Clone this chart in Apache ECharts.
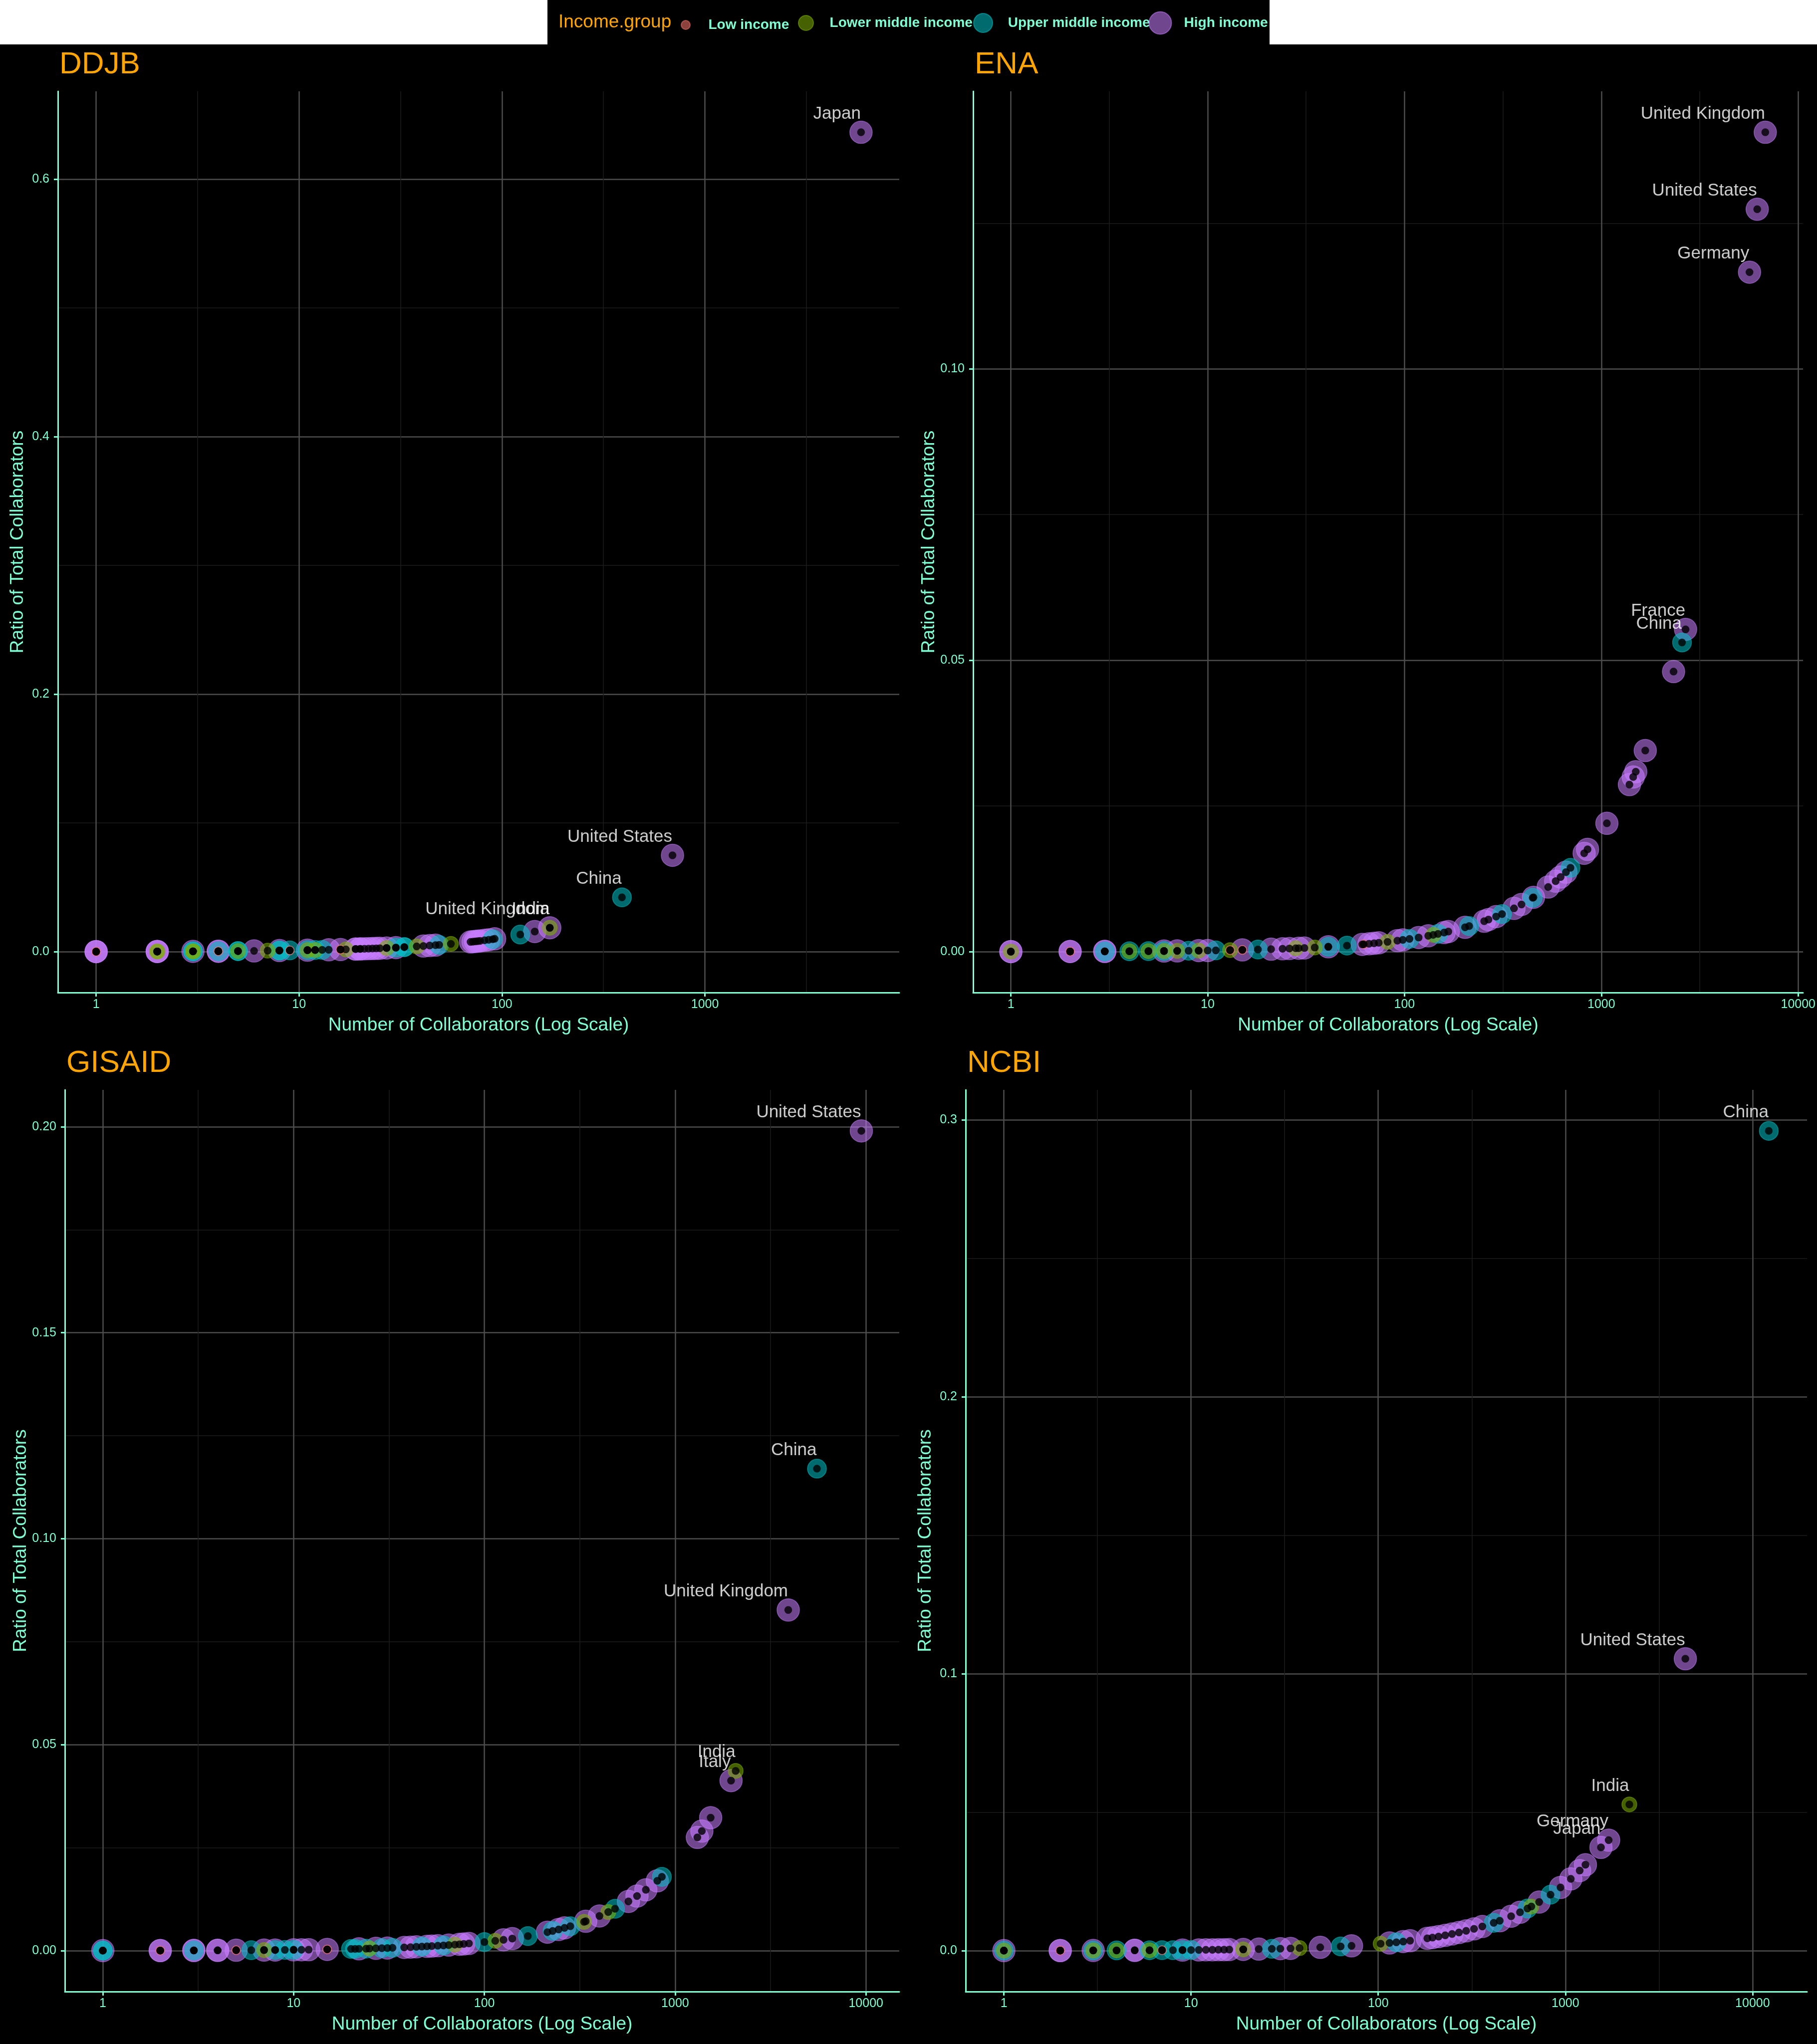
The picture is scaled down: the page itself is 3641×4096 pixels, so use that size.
<!DOCTYPE html>
<html><head><meta charset="utf-8">
<script src="https://cdn.jsdelivr.net/npm/echarts@6/dist/echarts.min.js"></script>
<style>html,body{margin:0;padding:0;background:#000}#c{width:3641px;height:4096px}</style>
</head><body><div id="c"></div>
<script>
// ---------- categories ----------
const groupNames = ['Low income', 'Lower middle income', 'Upper middle income', 'High income'];
const groupCodes = ['L', 'LM', 'UM', 'H'];
const panelTitles = ['DDJB', 'ENA', 'GISAID', 'NCBI'];

// ---------- tick labels ----------
const ddjbXTicks = [1, 10, 100, 1000];
const otherXTicks = [1, 10, 100, 1000, 10000];
const ddjbYTicks = [0, 0.2, 0.4, 0.6];
const enaYTicks = [0, 0.05, 0.10];
const gisaidYTicks = [0, 0.05, 0.10, 0.15, 0.20];
const ncbiYTicks = [0, 0.1, 0.2, 0.3];

// ---------- DDJB ----------
const ddjbX = [1,1,1,1,2,2,2,2,2,3,3,3,3,3,4,4,4,4,5,5,5,6,7,8,8,8,9,9,11,11,11,12,12,13,14,16,16,17,19,19,20,20,21,22,23,24,25,27,27,30,30,33,33,38,41,44,47,49,56,70,72,74,76,78,82,86,90,92,123,145,172,172,390,692,5878];
const ddjbY = [0.0001,0.0001,0.0001,0.0001,0.0002,0.0002,0.0002,0.0002,0.0002,0.0003,0.0003,0.0003,0.0003,0.0003,0.0004,0.0004,0.0004,0.0004,0.0005,0.0005,0.0005,0.0006,0.0008,0.0009,0.0009,0.0009,0.0010,0.0010,0.0012,0.0012,0.0012,0.0013,0.0013,0.0014,0.0015,0.0017,0.0017,0.0018,0.0021,0.0021,0.0022,0.0022,0.0023,0.0024,0.0025,0.0026,0.0027,0.0029,0.0029,0.0032,0.0032,0.0036,0.0036,0.0041,0.0044,0.0048,0.0051,0.0053,0.0061,0.0076,0.0078,0.0080,0.0082,0.0084,0.0089,0.0093,0.0097,0.0100,0.0133,0.0157,0.0186,0.0186,0.0422,0.0749,0.6364];
const ddjbGroup = ['H','H','H','L','H','H','H','LM','LM','H','UM','UM','LM','LM','H','UM','H','L','UM','UM','LM','H','LM','H','UM','UM','UM','L','H','UM','LM','LM','UM','UM','H','H','L','LM','H','H','H','H','H','H','H','H','H','LM','H','H','UM','UM','UM','LM','H','H','H','UM','LM','H','H','H','H','H','H','H','UM','H','UM','H','H','LM','UM','H','H'];
const ddjbLabelNames = ['Japan', 'United States', 'China', 'United Kingdom', 'India'];
const ddjbLabelX = [5878, 692, 390, 172, 172];
const ddjbLabelY = [0.6364, 0.0749, 0.0422, 0.0186, 0.0186];

// ---------- ENA ----------
const enaX = [1,1,1,2,2,2,3,3,3,4,4,5,5,6,6,6,7,7,8,9,9,10,11,13,13,15,15,18,21,24,26,28,29,31,35,41,41,51,61,62,66,70,74,82,92,98,106,118,132,140,148,159,167,203,213,254,267,292,313,360,393,448,452,537,586,621,661,697,818,851,1067,1389,1452,1496,1672,2328,2570,2679,5660,6195,6808];
const enaY = [0.00002,0.00002,0.00002,0.00004,0.00004,0.00004,0.00006,0.00006,0.00006,0.00008,0.00008,0.00010,0.00010,0.00012,0.00012,0.00012,0.00014,0.00014,0.00017,0.00019,0.00019,0.00021,0.00023,0.00027,0.00027,0.00031,0.00031,0.00037,0.00043,0.00050,0.00054,0.00058,0.00060,0.00064,0.00072,0.00085,0.00085,0.00105,0.00126,0.00128,0.00136,0.00145,0.00153,0.00169,0.00190,0.00202,0.00219,0.00244,0.00273,0.00289,0.00306,0.00328,0.00345,0.00419,0.00440,0.00524,0.00551,0.00603,0.00646,0.00743,0.00811,0.00925,0.00933,0.01109,0.01210,0.01282,0.01365,0.01439,0.01689,0.01757,0.02203,0.02868,0.02998,0.03089,0.03452,0.04806,0.05306,0.05531,0.1166,0.1274,0.1406];
const enaGroup = ['LM','H','H','H','H','L','H','UM','H','UM','LM','UM','LM','LM','H','UM','LM','H','UM','H','LM','H','UM','LM','L','H','L','UM','H','H','H','LM','H','H','LM','UM','H','UM','H','L','H','H','H','LM','H','H','UM','H','H','LM','UM','H','H','H','UM','H','H','H','UM','H','H','UM','H','H','H','H','H','UM','H','H','H','H','H','H','H','H','UM','H','H','H','H'];
const enaLabelNames = ['United Kingdom', 'United States', 'Germany', 'France', 'China'];
const enaLabelX = [6808, 6195, 5660, 2679, 2570];
const enaLabelY = [0.1406, 0.1274, 0.1166, 0.05531, 0.05306];

// ---------- GISAID ----------
const gisaidX = [1,1,1,2,2,2,3,3,3,4,4,5,5,6,7,7,8,8,9,10,10,11,12,15,15,20,21,22,24,25,27,29,31,33,38,41,44,47,50,53,57,61,65,70,74,78,83,100,114,126,140,169,214,228,245,263,282,333,340,401,446,484,569,631,702,806,852,1307,1380,1535,1963,2075,3915,5536,9460];
const gisaidY = [0.00002,0.00002,0.00002,0.00004,0.00004,0.00004,0.00006,0.00006,0.00006,0.00008,0.00008,0.00011,0.00011,0.00013,0.00015,0.00015,0.00017,0.00017,0.00019,0.00021,0.00021,0.00023,0.00025,0.00032,0.00032,0.00042,0.00044,0.00046,0.00050,0.00053,0.00057,0.00061,0.00065,0.00069,0.00080,0.00086,0.00093,0.00099,0.00105,0.00111,0.00120,0.00128,0.00137,0.00147,0.00156,0.00164,0.00175,0.00210,0.00240,0.00265,0.00294,0.00355,0.00450,0.00480,0.00515,0.00553,0.00593,0.00700,0.00715,0.00843,0.00938,0.01018,0.01197,0.01327,0.01477,0.01695,0.01792,0.02749,0.02903,0.03229,0.04129,0.04365,0.0827,0.1170,0.1990];
const gisaidGroup = ['UM','UM','H','H','H','L','H','H','UM','H','H','H','L','UM','LM','H','UM','H','UM','UM','H','H','H','H','L','UM','UM','H','UM','LM','H','UM','H','UM','H','H','H','UM','H','H','H','UM','H','LM','H','H','H','UM','LM','H','H','UM','H','UM','H','H','UM','LM','H','H','LM','UM','H','H','H','H','UM','H','H','H','H','LM','H','UM','H'];
const gisaidLabelNames = ['United States', 'China', 'United Kingdom', 'India', 'Italy'];
const gisaidLabelX = [9460, 5536, 3915, 2075, 1963];
const gisaidLabelY = [0.1990, 0.1170, 0.0827, 0.04365, 0.04129];

// ---------- NCBI ----------
const ncbiX = [1,1,1,2,2,2,3,3,3,4,4,5,5,6,6,7,7,8,9,9,10,11,12,13,14,15,16,19,19,23,27,30,34,38,49,63,72,103,115,125,136,148,183,195,210,228,248,270,295,325,360,414,446,513,572,627,658,724,833,942,1069,1192,1280,1549,1703,2197,4375,12210];
const ncbiY = [0.00002,0.00002,0.00002,0.00005,0.00005,0.00005,0.00007,0.00007,0.00007,0.00010,0.00010,0.00012,0.00012,0.00015,0.00015,0.00017,0.00017,0.00019,0.00022,0.00022,0.00024,0.00027,0.00029,0.00032,0.00034,0.00036,0.00039,0.00046,0.00046,0.00056,0.00065,0.00073,0.00082,0.00092,0.00119,0.00153,0.00175,0.00250,0.00279,0.00303,0.00330,0.00359,0.00444,0.00473,0.00509,0.00553,0.00601,0.00655,0.00715,0.00788,0.00873,0.01004,0.01081,0.01244,0.01387,0.01520,0.01595,0.01755,0.02020,0.02284,0.02592,0.02890,0.03103,0.0373,0.0399,0.0528,0.1054,0.2960];
const ncbiGroup = ['UM','LM','H','H','H','L','LM','UM','H','LM','UM','H','H','LM','UM','UM','L','UM','H','UM','UM','H','H','H','H','H','H','H','LM','H','UM','H','H','LM','H','UM','H','LM','H','UM','H','H','H','H','H','H','H','H','H','H','H','UM','H','H','H','UM','LM','H','UM','H','H','H','H','H','H','LM','H','UM'];
const ncbiLabelNames = ['China', 'United States', 'India', 'Germany', 'Japan'];
const ncbiLabelX = [12210, 4375, 2197, 1703, 1549];
const ncbiLabelY = [0.2960, 0.1054, 0.0528, 0.0399, 0.0373];

// ---------- styling / layout ----------
const FONT = 'Liberation Sans, Arial, sans-serif';
const AQUA = '#7FFFD4';
const ORANGE = '#FFA500';
const groupColors = {L: '#F8766D', LM: '#7CAE00', UM: '#00BFC4', H: '#C77CFF'};
const groupSizes = {L: 18, LM: 30, UM: 38, H: 45};
const drawOrder = ['H', 'UM', 'LM', 'L'];
function rgba(hex, a) {
  const n = parseInt(hex.slice(1), 16);
  return 'rgba(' + ((n >> 16) & 255) + ',' + ((n >> 8) & 255) + ',' + (n & 255) + ',' + a + ')';
}
const panels = [
  {x: ddjbX, y: ddjbY, g: ddjbGroup, ln: ddjbLabelNames, lx: ddjbLabelX, ly: ddjbLabelY, xt: ddjbXTicks, yt: ddjbYTicks, dec: 1, step: 0.2,
   grid: {left: 116, top: 183, width: 1686, height: 1806}},
  {x: enaX, y: enaY, g: enaGroup, ln: enaLabelNames, lx: enaLabelX, ly: enaLabelY, xt: otherXTicks, yt: enaYTicks, dec: 2, step: 0.05,
   grid: {left: 1950, top: 183, width: 1672, height: 1806}},
  {x: gisaidX, y: gisaidY, g: gisaidGroup, ln: gisaidLabelNames, lx: gisaidLabelX, ly: gisaidLabelY, xt: otherXTicks, yt: gisaidYTicks, dec: 2, step: 0.05,
   grid: {left: 130, top: 2184, width: 1672, height: 1807}},
  {x: ncbiX, y: ncbiY, g: ncbiGroup, ln: ncbiLabelNames, lx: ncbiLabelX, ly: ncbiLabelY, xt: otherXTicks, yt: ncbiYTicks, dec: 1, step: 0.1,
   grid: {left: 1935, top: 2184, width: 1686, height: 1807}}
];

function logRange(xs) {
  const lo = Math.log10(Math.min.apply(null, xs)), hi = Math.log10(Math.max.apply(null, xs));
  const pad = 0.05 * (hi - lo);
  return [lo - pad, hi + pad];
}
function linExtent(ys) {
  const lo = Math.min.apply(null, ys), hi = Math.max.apply(null, ys);
  const pad = 0.05 * (hi - lo);
  return [lo - pad, hi + pad];
}

const grids = [], xAxes = [], yAxes = [], series = [], titles = [];
panels.forEach(function (p, i) {
  grids.push(Object.assign({containLabel: false}, p.grid));
  const lr = logRange(p.x), ye = linExtent(p.y);
  xAxes.push({
    type: 'log', logBase: 10, gridIndex: i, min: Math.pow(10, lr[0]), max: Math.pow(10, lr[1]),
    name: 'Number of Collaborators (Log Scale)', nameLocation: 'middle', nameGap: 47,
    nameTextStyle: {color: AQUA, fontSize: 37, fontFamily: FONT},
    axisLine: {show: true, onZero: false, lineStyle: {color: AQUA, width: 3}},
    axisTick: {show: true, length: 8, customValues: p.xt, lineStyle: {color: AQUA, width: 3}},
    axisLabel: {color: AQUA, fontSize: 25, fontFamily: FONT, margin: 12, customValues: p.xt,
      formatter: function (v) { return String(Math.round(v)); }},
    splitLine: {show: true, lineStyle: {color: '#4D4D4D', width: 2.5}},
    minorTick: {show: false},
    minorSplitLine: {show: false}
  });
  yAxes.push({
    type: 'value', gridIndex: i, min: ye[0], max: ye[1], minInterval: p.step, maxInterval: p.step,
    name: 'Ratio of Total Collaborators', nameLocation: 'middle', nameRotate: 90, nameGap: 62,
    nameTextStyle: {color: AQUA, fontSize: 37, fontFamily: FONT},
    axisLine: {show: true, onZero: false, lineStyle: {color: AQUA, width: 3}},
    axisTick: {show: true, length: 8, customValues: p.yt, lineStyle: {color: AQUA, width: 3}},
    axisLabel: {color: AQUA, fontSize: 25, fontFamily: FONT, margin: 17, customValues: p.yt,
      formatter: function (v) { return v.toFixed(p.dec); }},
    splitLine: {show: true, lineStyle: {color: '#4D4D4D', width: 2.5}},
    minorTick: {show: false, splitNumber: 2},
    minorSplitLine: {show: true, lineStyle: {color: '#1C1C1C', width: 1.5}}
  });
  drawOrder.forEach(function (code) {
    const data = [];
    for (let k = 0; k < p.x.length; k++) if (p.g[k] === code) data.push([p.x[k], p.y[k]]);
    series.push({
      type: 'scatter', name: groupNames[groupCodes.indexOf(code)], xAxisIndex: i, yAxisIndex: i,
      data: data, symbol: 'circle', symbolSize: groupSizes[code], z: 2, silent: true,
      itemStyle: {color: rgba(groupColors[code], 0.7), borderColor: rgba(groupColors[code], 0.7), borderWidth: 1.5},
      emphasis: {disabled: true}
    });
  });
  series.push({
    type: 'scatter', name: 'centre', xAxisIndex: i, yAxisIndex: i, z: 3, silent: true,
    data: p.x.map(function (v, k) { return [v, p.y[k]]; }),
    symbolSize: 15.5, itemStyle: {color: '#000'}, emphasis: {disabled: true}
  });
  series.push({
    type: 'scatter', name: 'labels', xAxisIndex: i, yAxisIndex: i, z: 4, silent: true,
    data: p.ln.map(function (n, k) { return {name: n, value: [p.lx[k], p.ly[k]]}; }),
    symbolSize: 1, itemStyle: {color: 'rgba(0,0,0,0)'}, emphasis: {disabled: true},
    label: {show: true, formatter: '{b}', position: [0, -19], align: 'right', verticalAlign: 'bottom',
      color: '#FFFFFF', fontSize: 35, lineHeight: 35, fontFamily: FONT}
  });
  titles.push({
    text: panelTitles[i], left: p.grid.left + 3, top: p.grid.top - 84, padding: 0,
    textStyle: {color: ORANGE, fontSize: 62, fontWeight: 'normal', fontFamily: FONT}
  });
});
// helper axes (log10 space) carrying only the half-decade minor grid lines
panels.forEach(function (p, i) {
  const lr = logRange(p.x);
  xAxes.push({
    type: 'value', gridIndex: i, min: lr[0], max: lr[1], minInterval: 1, maxInterval: 1, position: 'top',
    axisLine: {show: false}, axisTick: {show: false}, axisLabel: {show: false}, splitLine: {show: false},
    minorTick: {show: false, splitNumber: 2},
    minorSplitLine: {show: true, lineStyle: {color: '#1C1C1C', width: 1.5}}
  });
});

const legendCenters = [1373, 1614, 1969, 2324];
const legendTextGap = [45.5, 47.6, 49.8, 47.6];
const legends = groupNames.map(function (name, k) {
  const s = groupSizes[groupCodes[k]];
  return {
    show: true, data: [name], left: legendCenters[k] - s / 2, top: 45 - s / 2,
    itemWidth: 2 * (legendTextGap[k] - 5), itemHeight: s,
    padding: 0, itemGap: 0, selectedMode: false, icon: 'circle',
    textStyle: {color: AQUA, fontSize: 28, fontWeight: 'bold', fontFamily: FONT}
  };
});

const chart = echarts.init(document.getElementById('c'), null, {renderer: 'canvas'});
chart.setOption({
  backgroundColor: '#000000',
  animation: false,
  title: titles,
  legend: legends,
  grid: grids,
  xAxis: xAxes,
  yAxis: yAxes,
  series: series,
  graphic: [
    {type: 'rect', left: 0, top: 0, shape: {width: 1097, height: 89}, style: {fill: '#FFFFFF'}, silent: true},
    {type: 'rect', left: 2544, top: 0, shape: {width: 1097, height: 89}, style: {fill: '#FFFFFF'}, silent: true},
    {type: 'text', left: 1119, top: 26, silent: true,
     style: {text: 'Income.group', fill: ORANGE, font: '37px ' + FONT}}
  ]
});
</script></body></html>
